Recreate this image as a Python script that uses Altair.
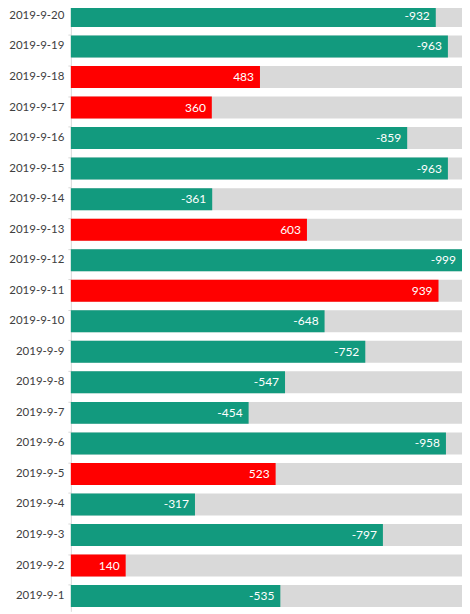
import altair as alt
import pandas as pd

dates = [
    "2019-9-20", "2019-9-19", "2019-9-18", "2019-9-17", "2019-9-16",
    "2019-9-15", "2019-9-14", "2019-9-13", "2019-9-12", "2019-9-11",
    "2019-9-10", "2019-9-9", "2019-9-8", "2019-9-7", "2019-9-6",
    "2019-9-5", "2019-9-4", "2019-9-3", "2019-9-2", "2019-9-1",
]
values = [
    -932, -963, 483, 360, -859,
    -963, -361, 603, -999, 939,
    -648, -752, -547, -454, -958,
    523, -317, -797, 140, -535,
]

df = pd.DataFrame({"date": dates, "value": values})
df["size"] = df["value"].abs()
df["full"] = df["size"].max()
df["label"] = df["value"].astype(str)
df["sign"] = ["neg" if v < 0 else "pos" for v in values]

y = alt.Y("date:N", sort=dates, title=None,
          scale=alt.Scale(paddingInner=0.28, paddingOuter=0.14),
          axis=alt.Axis(labelFont="Lato", labelFontSize=11.5,
                        labelColor="#404040", labelPadding=4,
                        domainColor="#d9d9d9", tickColor="#d9d9d9",
                        tickSize=3, bandPosition=0))
x_scale = alt.Scale(domain=[0, 999], nice=False, zero=True)

base = alt.Chart(df)

background = base.mark_bar(color="#d9d9d9").encode(
    x=alt.X("full:Q", scale=x_scale, axis=None),
    y=y,
)

bars = base.mark_bar().encode(
    x=alt.X("size:Q", scale=x_scale, axis=None),
    y=y,
    color=alt.Color("sign:N", legend=None,
                    scale=alt.Scale(domain=["neg", "pos"],
                                    range=["#129a7e", "#ff0000"])),
)

labels = base.mark_text(align="right", dx=-6, color="white",
                        font="Lato", fontSize=12).encode(
    x=alt.X("size:Q", scale=x_scale, axis=None),
    y=y,
    text="label:N",
)

chart = (background + bars + labels).properties(
    width=392, height=612, padding={"top": -8, "left": 0, "right": 0, "bottom": 0}
).configure_view(stroke=None)

chart.save("out.html", embed_options={"renderer": "svg", "actions": False})
